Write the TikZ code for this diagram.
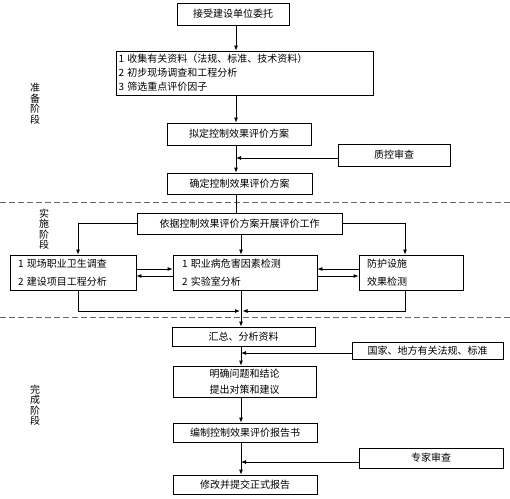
\documentclass[tikz,border=0pt]{standalone}
\usepackage{fontspec}
\setmainfont{Noto Sans CJK SC}
\usetikzlibrary{arrows.meta,calc}
\begin{document}
\begin{tikzpicture}[x=1pt,y=-1pt,
  every node/.style={font=\fontsize{10}{12}\selectfont},
  bx/.style={draw,line width=0.8pt,inner sep=1pt,align=center},
  arr/.style={line width=0.8pt,-{Latex[length=5pt,width=4pt]}},
  ln/.style={line width=0.8pt},
  sep/.style={gray!80!black,line width=1pt,dash pattern=on 6pt off 3pt},
  vlabel/.style={align=center,font=\fontsize{10}{10.5}\selectfont}]
\useasboundingbox (0,0) rectangle (510,498);
% boxes
\node[bx,minimum width=112pt,minimum height=22pt] (b1) at (233,14) {接受建设单位委托};
\node[bx,minimum width=257pt,minimum height=44pt,text width=252pt,align=left,font=\fontsize{10}{14}\selectfont] (b2) at (244.5,73) {1 收集有关资料（法规、标准、技术资料）\\2 初步现场调查和工程分析\\3 筛选重点评价因子};
\node[bx,minimum width=144pt,minimum height=22pt] (b3) at (239,134) {拟定控制效果评价方案};
\node[bx,minimum width=112pt,minimum height=22pt] (qc) at (394,155) {质控审查};
\node[bx,minimum width=145pt,minimum height=21pt] (b4) at (239.5,183.5) {确定控制效果评价方案};
\node[bx,minimum width=205pt,minimum height=21pt] (b5) at (239.5,223.5) {依据控制效果评价方案开展评价工作};
\node[bx,minimum width=126pt,minimum height=35pt,text width=110pt,align=left,font=\fontsize{10}{18}\selectfont] (b6) at (73,272.5) {1 现场职业卫生调查\\2 建设项目工程分析};
\node[bx,minimum width=144pt,minimum height=35pt,text width=126pt,align=left,font=\fontsize{10}{18}\selectfont] (b7) at (245,272.5) {1 职业病危害因素检测\\2 实验室分析};
\node[bx,minimum width=104pt,minimum height=35pt,text width=88pt,align=left,font=\fontsize{10}{18}\selectfont] (b8) at (411,272.5) {防护设施\\效果检测};
\node[bx,minimum width=143pt,minimum height=19pt] (b9) at (243.5,336.5) {汇总、分析资料};
\node[bx,minimum width=151pt,minimum height=17pt] (std) at (427.5,350.5) {国家、地方有关法规、标准};
\node[bx,minimum width=143pt,minimum height=31pt,font=\fontsize{10}{16}\selectfont] (b10) at (244.5,381.5) {明确问题和结论\\提出对策和建议};
\node[bx,minimum width=144pt,minimum height=19pt] (b11) at (245,432.5) {编制控制效果评价报告书};
\node[bx,minimum width=144pt,minimum height=20pt] (exp) at (431,458) {专家审查};
\node[bx,minimum width=144pt,minimum height=19pt] (b12) at (245,484.5) {修改并提交正式报告};
% phase labels
\node[vlabel] (p1) at (35,104) {准\\备\\阶\\段};
\node[vlabel] (p2) at (44,229) {实\\施\\阶\\段};
\node[vlabel] (p3) at (35,405) {完\\成\\阶\\段};
% separators
\coordinate (s1a) at (0,202); \coordinate (s1b) at (510,202);
\coordinate (s2a) at (0,317); \coordinate (s2b) at (510,317);
\draw[sep] (s1a) -- (s1b);
\draw[sep] (s2a) -- (s2b);
% main line coordinates
\coordinate (m1) at (236,0);
\coordinate (m2) at (241,0);
\coordinate (l6) at (78,0);
\coordinate (l8) at (405,0);
\coordinate (h1) at (0,269);
\coordinate (h2) at (0,276);
\coordinate (jl) at (240,311);
\coordinate (jr) at (242.5,311);
\coordinate (qy) at (0,158);
\coordinate (sy) at (0,353);
\coordinate (ey) at (0,462);
\draw[arr] (b1.south -| m1) -- (b2.north -| m1);
\draw[arr] (b2.south -| m1) -- (b3.north -| m1);
\draw[arr] (b3.south -| m1) -- (b4.north -| m1);
\draw[arr] (qc.west |- qy) -- (m1 |- qy);
\draw[ln] (b4.south -| m1) -- (b5.north -| m1);
\draw[arr] (b5.west) -| (b6.north -| l6);
\draw[arr] (b5.east) -| (b8.north -| l8);
\draw[arr] (b5.south -| m2) -- (b7.north -| m2);
\draw[arr] (b6.east |- h1) -- (b7.west |- h1);
\draw[arr] (b7.west |- h2) -- (b6.east |- h2);
\draw[arr] (b8.west |- h1) -- (b7.east |- h1);
\draw[arr] (b7.east |- h2) -- (b8.west |- h2);
\draw[arr] (b6.south -| l6) |- (jl);
\draw[arr] (b8.south -| l8) |- (jr);
\draw[arr] (b7.south -| m2) -- (b9.north -| m2);
\draw[arr] (b9.south -| m2) -- (b10.north -| m2);
\draw[arr] (std.west |- sy) -- (m2 |- sy);
\draw[arr] (b10.south -| m2) -- (b11.north -| m2);
\draw[arr] (b11.south -| m2) -- (b12.north -| m2);
\draw[arr] (exp.west |- ey) -- (m2 |- ey);
\end{tikzpicture}
\end{document}
